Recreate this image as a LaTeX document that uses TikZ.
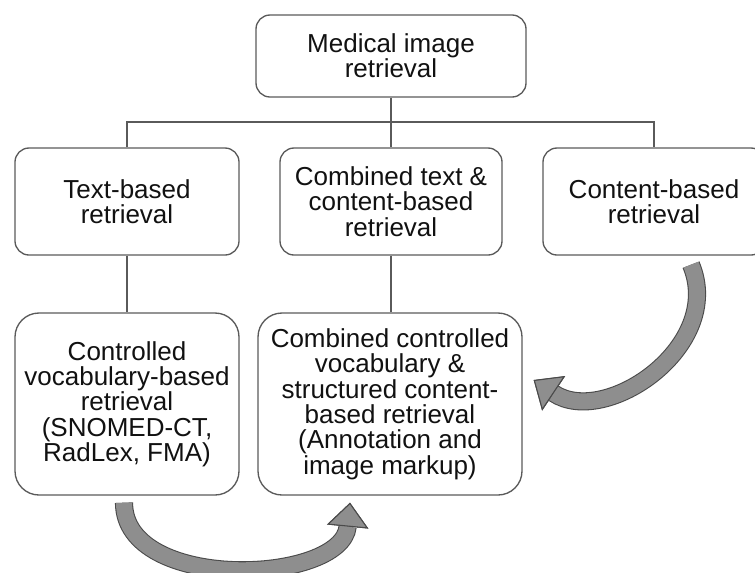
\documentclass[tikz,border=0pt]{standalone}
\usepackage{fontspec}
\setmainfont{Liberation Sans}
\usetikzlibrary{arrows.meta,calc}
\definecolor{boxline}{HTML}{5A5A5A}
\definecolor{arrowgray}{HTML}{8E8E8E}
\definecolor{arrowline}{HTML}{4A4A4A}
\definecolor{txt}{HTML}{111111}
\begin{document}
\begin{tikzpicture}[x=0.75pt,y=-0.75pt,
        box/.style={draw=boxline, line width=1pt, rounded corners=10.5pt, align=center, inner sep=0pt, text=txt, font=\fontsize{19.5}{19}\selectfont},
        tallbox/.style={box, rounded corners=18pt},
        link/.style={draw=boxline, line width=0.9pt},
        fatarrow/.style={draw=arrowgray, line width=12pt, -{Triangle[width=31pt,length=18pt,color=arrowline,fill=arrowgray,line width=0.8pt]}, preaction={draw=arrowline, line width=13.6pt}}]
        \useasboundingbox (0,0) rectangle (755,572);
        \node[box, minimum width=202.5pt, minimum height=61.5pt] (top) at (391,56) {Medical image\\retrieval};
        \node[box, minimum width=168pt, minimum height=80.25pt] (tb) at (127,201.5) {Text-based\\retrieval};
        \node[box, minimum width=166.5pt, minimum height=80.25pt] (cmb) at (391,201.5) {Combined text \&\\content-based\\retrieval};
        \node[box, minimum width=166.5pt, minimum height=80.25pt] (cb) at (654,201.5) {Content-based\\retrieval};
        \node[tallbox, minimum width=168pt, minimum height=136.5pt] (cv) at (127,404) {Controlled\\vocabulary-based\\retrieval\\(SNOMED-CT,\\RadLex, FMA)};
        \node[tallbox, minimum width=198pt, minimum height=136.5pt] (ccv) at (390,404) {Combined controlled\\vocabulary \&\\structured content-\\based retrieval\\(Annotation and\\image markup)};
        \coordinate (bus) at (391,122);
        \draw[link] (top.south) -- (bus);
        \draw[link] (tb.north) -- (tb.north |- bus) -- (cb.north |- bus) -- (cb.north);
        \draw[link] (bus) -- (cmb.north);
        \draw[link] (tb.south) -- (cv.north);
        \draw[link] (cmb.south) -- (cmb.south |- ccv.north);
        \draw[fatarrow] ($(cb.south)+(37,9)$) .. controls +(34,81) and +(72,48) .. ($(ccv.east)+(11,-24)$);
        \draw[fatarrow] ($(cv.south)+(-3,7)$) .. controls +(0,90) and +(-8,82) .. ($(ccv.south)+(-40,7)$);
    \end{tikzpicture}
\end{document}
